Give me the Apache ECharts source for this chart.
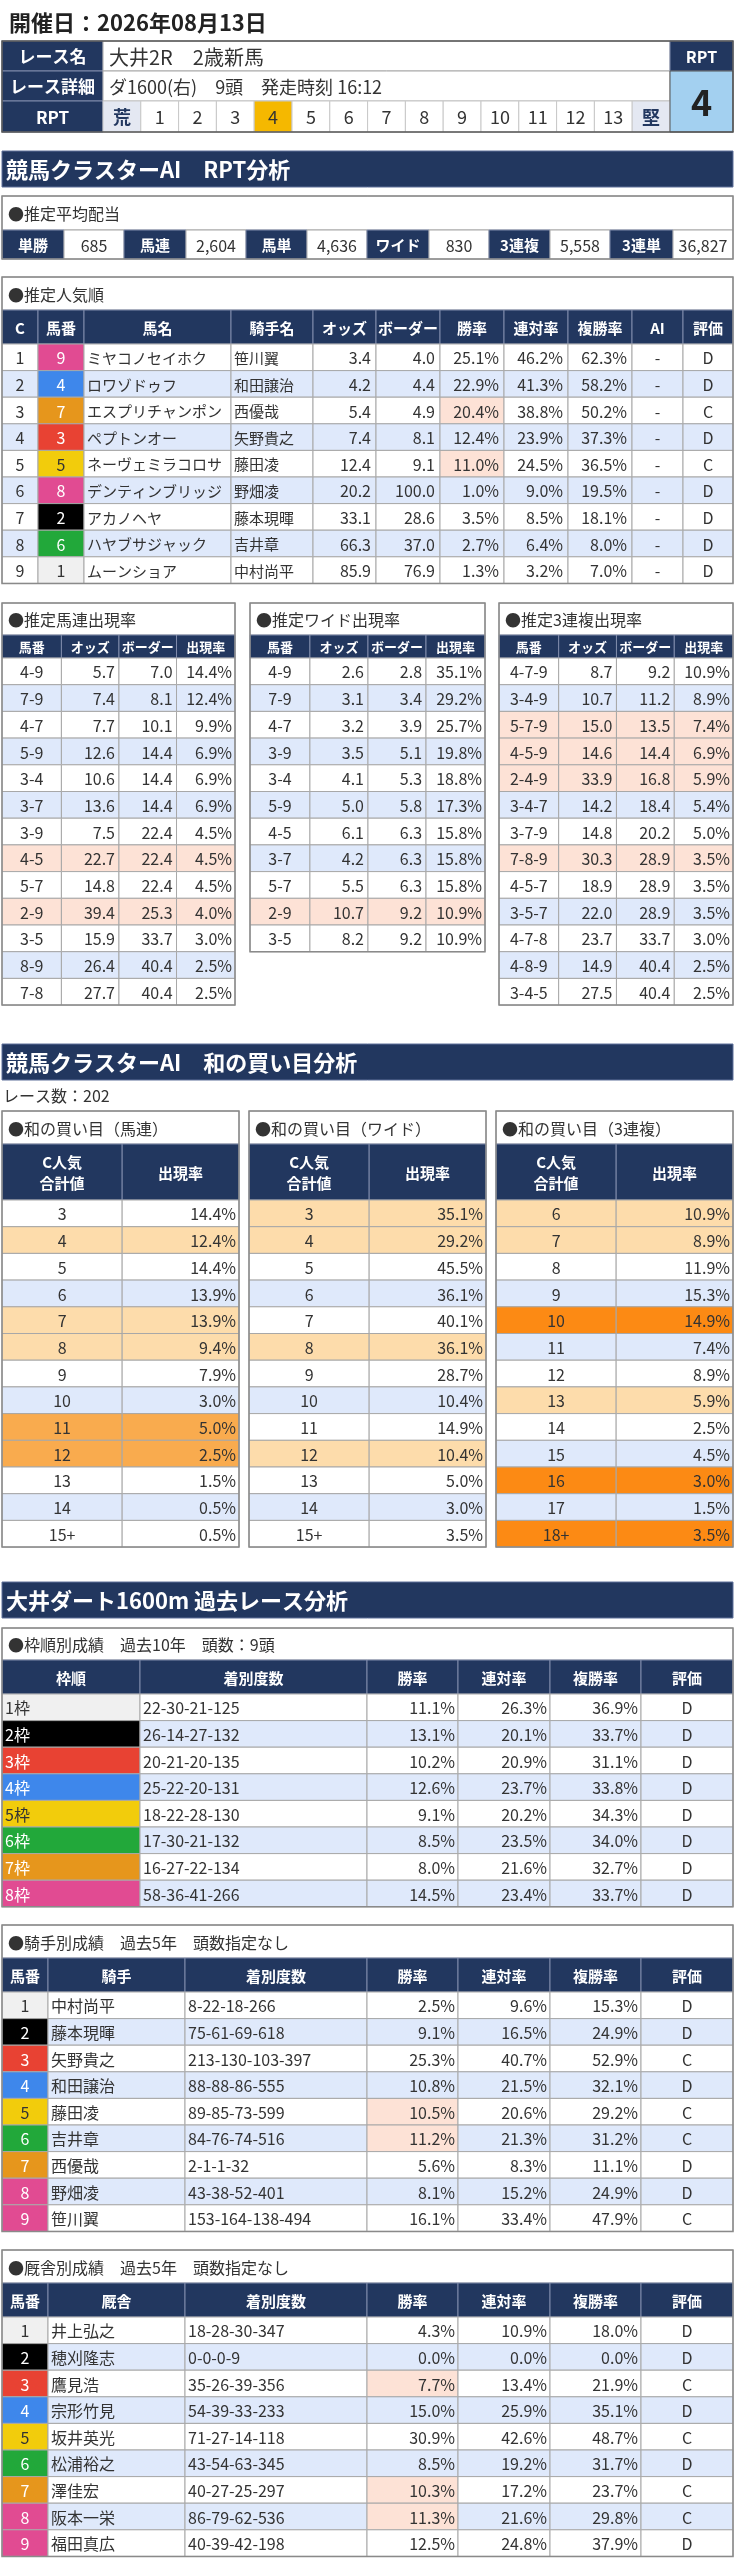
<!DOCTYPE html>
<html>
<head>
<meta charset="utf-8">
<script src="https://cdn.jsdelivr.net/npm/echarts/dist/echarts.min.js"></script>
<style>
html, body { margin: 0; padding: 0; background: #fff; }
#main { width: 735px; height: 2560px; }
</style>
</head>
<body>
<div id="main"></div>
<script>
// ---- data ----
var raceDate = '開催日：2026年08月13日';
var raceName = '大井2R　2歳新馬';
var raceDetail = 'ダ1600(右)　9頭　発走時刻 16:12';
var rptScale = ['荒', '1', '2', '3', '4', '5', '6', '7', '8', '9', '10', '11', '12', '13', '堅'];
var rptValue = 4;

var avgLabels = ['単勝', '馬連', '馬単', 'ワイド', '3連複', '3連単'];
var avgValues = ['685', '2,604', '4,636', '830', '5,558', '36,827'];

var popC = [1, 2, 3, 4, 5, 6, 7, 8, 9];
var popUmaban = [9, 4, 7, 3, 5, 8, 2, 6, 1];
var popName = ['ミヤコノセイホク', 'ロワゾドゥフ', 'エスプリチャンポン', 'ペプトンオー', 'ネーヴェミラコロサ', 'デンティンブリッジ', 'アカノヘヤ', 'ハヤブサジャック', 'ムーンショア'];
var popJockey = ['笹川翼', '和田譲治', '西優哉', '矢野貴之', '藤田凌', '野畑凌', '藤本現暉', '吉井章', '中村尚平'];
var popOdds = [3.4, 4.2, 5.4, 7.4, 12.4, 20.2, 33.1, 66.3, 85.9];
var popBorder = [4.0, 4.4, 4.9, 8.1, 9.1, 100.0, 28.6, 37.0, 76.9];
var popWin = [25.1, 22.9, 20.4, 12.4, 11.0, 1.0, 3.5, 2.7, 1.3];
var popRen = [46.2, 41.3, 38.8, 23.9, 24.5, 9.0, 8.5, 6.4, 3.2];
var popFuku = [62.3, 58.2, 50.2, 37.3, 36.5, 19.5, 18.1, 8.0, 7.0];
var popAI = ['-', '-', '-', '-', '-', '-', '-', '-', '-'];
var popEval = ['D', 'D', 'C', 'D', 'C', 'D', 'D', 'D', 'D'];
var popWinHi = [2, 4];

var umarenCombo = ['4-9', '7-9', '4-7', '5-9', '3-4', '3-7', '3-9', '4-5', '5-7', '2-9', '3-5', '8-9', '7-8'];
var umarenOdds = [5.7, 7.4, 7.7, 12.6, 10.6, 13.6, 7.5, 22.7, 14.8, 39.4, 15.9, 26.4, 27.7];
var umarenBorder = [7.0, 8.1, 10.1, 14.4, 14.4, 14.4, 22.4, 22.4, 22.4, 25.3, 33.7, 40.4, 40.4];
var umarenRate = [14.4, 12.4, 9.9, 6.9, 6.9, 6.9, 4.5, 4.5, 4.5, 4.0, 3.0, 2.5, 2.5];
var umarenHi = [7, 9];

var wideCombo = ['4-9', '7-9', '4-7', '3-9', '3-4', '5-9', '4-5', '3-7', '5-7', '2-9', '3-5'];
var wideOdds = [2.6, 3.1, 3.2, 3.5, 4.1, 5.0, 6.1, 4.2, 5.5, 10.7, 8.2];
var wideBorder = [2.8, 3.4, 3.9, 5.1, 5.3, 5.8, 6.3, 6.3, 6.3, 9.2, 9.2];
var wideRate = [35.1, 29.2, 25.7, 19.8, 18.8, 17.3, 15.8, 15.8, 15.8, 10.9, 10.9];
var wideHi = [9];

var trioCombo = ['4-7-9', '3-4-9', '5-7-9', '4-5-9', '2-4-9', '3-4-7', '3-7-9', '7-8-9', '4-5-7', '3-5-7', '4-7-8', '4-8-9', '3-4-5'];
var trioOdds = [8.7, 10.7, 15.0, 14.6, 33.9, 14.2, 14.8, 30.3, 18.9, 22.0, 23.7, 14.9, 27.5];
var trioBorder = [9.2, 11.2, 13.5, 14.4, 16.8, 18.4, 20.2, 28.9, 28.9, 28.9, 33.7, 40.4, 40.4];
var trioRate = [10.9, 8.9, 7.4, 6.9, 5.9, 5.4, 5.0, 3.5, 3.5, 3.5, 3.0, 2.5, 2.5];
var trioHi = [2, 3, 4, 7];

var raceCount = 202;
var sumKeys2 = ['3', '4', '5', '6', '7', '8', '9', '10', '11', '12', '13', '14', '15+'];
var umarenSumRate = [14.4, 12.4, 14.4, 13.9, 13.9, 9.4, 7.9, 3.0, 5.0, 2.5, 1.5, 0.5, 0.5];
var umarenSumLevel = [0, 1, 0, 0, 1, 1, 0, 0, 2, 2, 0, 0, 0];
var wideSumRate = [35.1, 29.2, 45.5, 36.1, 40.1, 36.1, 28.7, 10.4, 14.9, 10.4, 5.0, 3.0, 3.5];
var wideSumLevel = [1, 1, 0, 0, 0, 1, 0, 0, 0, 1, 0, 0, 0];
var sumKeys3 = ['6', '7', '8', '9', '10', '11', '12', '13', '14', '15', '16', '17', '18+'];
var trioSumRate = [10.9, 8.9, 11.9, 15.3, 14.9, 7.4, 8.9, 5.9, 2.5, 4.5, 3.0, 1.5, 3.5];
var trioSumLevel = [1, 1, 0, 0, 3, 0, 0, 1, 0, 0, 3, 0, 3];

var wakuRecord = ['22-30-21-125', '26-14-27-132', '20-21-20-135', '25-22-20-131', '18-22-28-130', '17-30-21-132', '16-27-22-134', '58-36-41-266'];
var wakuWin = [11.1, 13.1, 10.2, 12.6, 9.1, 8.5, 8.0, 14.5];
var wakuRen = [26.3, 20.1, 20.9, 23.7, 20.2, 23.5, 21.6, 23.4];
var wakuFuku = [36.9, 33.7, 31.1, 33.8, 34.3, 34.0, 32.7, 33.7];
var wakuEval = ['D', 'D', 'D', 'D', 'D', 'D', 'D', 'D'];

var jockeyName = ['中村尚平', '藤本現暉', '矢野貴之', '和田譲治', '藤田凌', '吉井章', '西優哉', '野畑凌', '笹川翼'];
var jockeyRecord = ['8-22-18-266', '75-61-69-618', '213-130-103-397', '88-88-86-555', '89-85-73-599', '84-76-74-516', '2-1-1-32', '43-38-52-401', '153-164-138-494'];
var jockeyWin = [2.5, 9.1, 25.3, 10.8, 10.5, 11.2, 5.6, 8.1, 16.1];
var jockeyRen = [9.6, 16.5, 40.7, 21.5, 20.6, 21.3, 8.3, 15.2, 33.4];
var jockeyFuku = [15.3, 24.9, 52.9, 32.1, 29.2, 31.2, 11.1, 24.9, 47.9];
var jockeyEval = ['D', 'D', 'C', 'D', 'C', 'C', 'D', 'D', 'C'];
var jockeyHi = [4, 5];

var stableName = ['井上弘之', '穂刈隆志', '鷹見浩', '宗形竹見', '坂井英光', '松浦裕之', '澤佳宏', '阪本一栄', '福田真広'];
var stableRecord = ['18-28-30-347', '0-0-0-9', '35-26-39-356', '54-39-33-233', '71-27-14-118', '43-54-63-345', '40-27-25-297', '86-79-62-536', '40-39-42-198'];
var stableWin = [4.3, 0.0, 7.7, 15.0, 30.9, 8.5, 10.3, 11.3, 12.5];
var stableRen = [10.9, 0.0, 13.4, 25.9, 42.6, 19.2, 17.2, 21.6, 24.8];
var stableFuku = [18.0, 0.0, 21.9, 35.1, 48.7, 31.7, 23.7, 29.8, 37.9];
var stableEval = ['D', 'D', 'C', 'D', 'C', 'D', 'C', 'C', 'D'];
var stableHi = [2, 6, 7];

var horseWaku = [1, 2, 3, 4, 5, 6, 7, 8, 8]; // 馬番 -> 枠

// ---- styles ----
var FONT = '"Noto Sans CJK JP", "Noto Sans", sans-serif';
var NAVY = '#22375f';
var BLUE_ROW = '#dfe9fb';
var PEACH = '#fde2d6';
var ORANGE = ['#ffffff', '#fddcab', '#f9ab4e', '#fc8a14'];
var WAKU_BG = ['#f0f0f0', '#000000', '#e84233', '#3e87eb', '#f2cc0c', '#22a83a', '#e6961c', '#e14b92'];
var WAKU_FG = ['#333333', '#ffffff', '#ffffff', '#ffffff', '#333333', '#ffffff', '#ffffff', '#ffffff'];
var GRID_LINE = '#a8a8a8';
var TEXT = '#333333';

function f(size, bold) { return (bold ? 'bold ' : '') + size + 'px ' + FONT; }
function pct(v) { return v.toFixed(1) + '%'; }
function has(arr, i) { return arr.indexOf(i) >= 0; }
function rowBg(r) { return r % 2 ? BLUE_ROW : '#ffffff'; }

// every cell of the page goes in here, then through one custom series
var cells = [];
function put(x, y, w, h, o) {
  o = o || {};
  o.x = x; o.y = y; o.w = w; o.h = h;
  cells.push(o);
}

function bar(y, text) {
  put(2, y, 731, 36, { fill: NAVY, stroke: '#5f719a', text: text, align: 'left', pad: 4, color: '#fff', font: f(22, true) });
}

function drawTable(t) {
  var e = t.edges, x0 = e[0], x1 = e[e.length - 1], y = t.y;
  if (t.title) {
    put(x0, y, x1 - x0, t.titleH, { fill: '#fff', stroke: GRID_LINE, text: t.title, align: 'left', pad: 6, color: TEXT, font: f(16) });
    y += t.titleH;
  }
  t.heads.forEach(function (hd, i) {
    put(e[i], y, e[i + 1] - e[i], t.headH, { fill: NAVY, stroke: '#7f8bab', text: hd, align: 'center', color: '#fff', font: t.headFont, lh: t.headLh });
  });
  y += t.headH;
  t.rows.forEach(function (row) {
    row.forEach(function (c, i) {
      c.fill = c.fill || '#fff';
      c.stroke = GRID_LINE;
      c.color = c.color || TEXT;
      c.font = c.font || f(16);
      c.align = c.align || 'center';
      put(e[i], y, e[i + 1] - e[i], t.rowH, c);
    });
    y += t.rowH;
  });
  put(x0, t.y, x1 - x0, y - t.y, { fill: 'none', stroke: '#8a8a8a', lw: 1.5 });
}

function scaleEdges(a, b, fr) { return fr.map(function (v) { return a + (b - a) * v; }); }

// ---- page header ----
put(0, 6, 420, 32, { fill: 'none', text: raceDate, align: 'left', pad: 9, color: '#222', font: f(22, true) });

var topRows = [41, 71, 101, 132];
['レース名', 'レース詳細', 'RPT'].forEach(function (lb, i) {
  put(2, topRows[i], 101, topRows[i + 1] - topRows[i], { fill: NAVY, stroke: '#7f8bab', text: lb, color: '#fff', font: f(17, true) });
});
put(103, 41, 567, 30, { fill: '#fff', stroke: GRID_LINE, text: raceName, align: 'left', pad: 6, color: TEXT, font: f(20) });
put(103, 71, 567, 30, { fill: '#fff', stroke: GRID_LINE, text: raceDetail, align: 'left', pad: 6, color: TEXT, font: f(18) });
rptScale.forEach(function (s, i) {
  var cw = 567 / rptScale.length;
  var edge = (i === 0 || i === rptScale.length - 1);
  var on = s === String(rptValue);
  put(103 + i * cw, 101, cw, 31, {
    fill: on ? '#f5b800' : (edge ? '#e4e8f2' : '#fff'), stroke: '#c8c8c8', text: s,
    color: edge ? NAVY : TEXT, font: f(18, edge)
  });
});
put(670, 41, 63, 30, { fill: NAVY, stroke: '#7f8bab', text: 'RPT', color: '#fff', font: f(16, true) });
put(670, 71, 63, 61, { fill: '#a3d0f0', stroke: '#555', text: String(rptValue), color: '#222', font: f(36, true) });
put(2, 41, 731, 91, { fill: 'none', stroke: '#555', lw: 1.5 });

// ---- RPT analysis ----
bar(151, '競馬クラスターAI　RPT分析');

put(2, 196, 731, 34, { fill: '#fff', stroke: GRID_LINE, text: '●推定平均配当', align: 'left', pad: 6, color: TEXT, font: f(16) });
var avgEdges = [2, 64, 124, 186, 246, 307, 367, 429, 489, 550, 610, 673, 733];
avgLabels.forEach(function (lb, i) {
  put(avgEdges[2 * i], 230, avgEdges[2 * i + 1] - avgEdges[2 * i], 29, { fill: NAVY, stroke: '#7f8bab', text: lb, color: '#fff', font: f(15, true) });
  put(avgEdges[2 * i + 1], 230, avgEdges[2 * i + 2] - avgEdges[2 * i + 1], 29, { fill: '#fff', stroke: GRID_LINE, text: avgValues[i], color: TEXT, font: f(16) });
});
put(2, 196, 731, 63, { fill: 'none', stroke: '#8a8a8a', lw: 1.5 });

drawTable({
  y: 277, edges: [2, 38, 84, 231, 313, 376, 440, 504, 568, 632, 683, 733],
  title: '●推定人気順', titleH: 33, headH: 34, rowH: 26.6, headFont: f(15, true),
  heads: ['C', '馬番', '馬名', '騎手名', 'オッズ', 'ボーダー', '勝率', '連対率', '複勝率', 'AI', '評価'],
  rows: popC.map(function (c, r) {
    var bg = rowBg(r), w = horseWaku[popUmaban[r] - 1] - 1;
    return [
      { text: String(c), fill: bg },
      { text: String(popUmaban[r]), fill: WAKU_BG[w], color: WAKU_FG[w] },
      { text: popName[r], fill: bg, align: 'left', pad: 3, font: f(15) },
      { text: popJockey[r], fill: bg, align: 'left', pad: 3, font: f(15) },
      { text: popOdds[r].toFixed(1), fill: bg, align: 'right' },
      { text: popBorder[r].toFixed(1), fill: bg, align: 'right' },
      { text: pct(popWin[r]), fill: has(popWinHi, r) ? PEACH : bg, align: 'right' },
      { text: pct(popRen[r]), fill: bg, align: 'right' },
      { text: pct(popFuku[r]), fill: bg, align: 'right' },
      { text: popAI[r], fill: bg },
      { text: popEval[r], fill: bg }
    ];
  })
});

function rateTable(x0, x1, title, combo, odds, border, rate, hi) {
  drawTable({
    y: 603, edges: scaleEdges(x0, x1, [0, 0.255, 0.502, 0.749, 1]),
    title: title, titleH: 32, headH: 23, rowH: 26.7, headFont: f(13, true),
    heads: ['馬番', 'オッズ', 'ボーダー', '出現率'],
    rows: combo.map(function (cb, r) {
      var bg = has(hi, r) ? PEACH : rowBg(r);
      return [
        { text: cb, fill: bg },
        { text: odds[r].toFixed(1), fill: bg, align: 'right', pad: 4 },
        { text: border[r].toFixed(1), fill: bg, align: 'right', pad: 4 },
        { text: pct(rate[r]), fill: bg, align: 'right', pad: 3 }
      ];
    })
  });
}
rateTable(2, 235, '●推定馬連出現率', umarenCombo, umarenOdds, umarenBorder, umarenRate, umarenHi);
rateTable(250, 485, '●推定ワイド出現率', wideCombo, wideOdds, wideBorder, wideRate, wideHi);
rateTable(499, 733, '●推定3連複出現率', trioCombo, trioOdds, trioBorder, trioRate, trioHi);

// ---- sum-of-popularity analysis ----
bar(1044, '競馬クラスターAI　和の買い目分析');
put(0, 1083, 200, 24, { fill: 'none', text: 'レース数：' + raceCount, align: 'left', pad: 3, color: TEXT, font: f(16) });

function sumTable(x0, x1, title, keys, rate, level) {
  drawTable({
    y: 1111, edges: scaleEdges(x0, x1, [0, 0.507, 1]),
    title: title, titleH: 33, headH: 56, rowH: 26.7, headFont: f(15, true), headLh: 21,
    heads: ['C人気\n合計値', '出現率'],
    rows: keys.map(function (k, r) {
      var bg = level[r] ? ORANGE[level[r]] : rowBg(r);
      return [
        { text: k, fill: bg },
        { text: pct(rate[r]), fill: bg, align: 'right', pad: 3 }
      ];
    })
  });
}
sumTable(2, 239, '●和の買い目（馬連）', sumKeys2, umarenSumRate, umarenSumLevel);
sumTable(249, 486, '●和の買い目（ワイド）', sumKeys2, wideSumRate, wideSumLevel);
sumTable(496, 733, '●和の買い目（3連複）', sumKeys3, trioSumRate, trioSumLevel);

// ---- past race analysis ----
bar(1582, '大井ダート1600m 過去レース分析');

drawTable({
  y: 1628, edges: [2, 140, 367, 458, 550, 641, 733],
  title: '●枠順別成績　過去10年　頭数：9頭', titleH: 32, headH: 34, rowH: 26.6, headFont: f(15, true),
  heads: ['枠順', '着別度数', '勝率', '連対率', '複勝率', '評価'],
  rows: wakuRecord.map(function (rec, r) {
    var bg = rowBg(r);
    return [
      { text: (r + 1) + '枠', fill: WAKU_BG[r], color: WAKU_FG[r], align: 'left', pad: 3 },
      { text: rec, fill: bg, align: 'left', pad: 3 },
      { text: pct(wakuWin[r]), fill: bg, align: 'right', pad: 3 },
      { text: pct(wakuRen[r]), fill: bg, align: 'right', pad: 3 },
      { text: pct(wakuFuku[r]), fill: bg, align: 'right', pad: 3 },
      { text: wakuEval[r], fill: bg }
    ];
  })
});

function personTable(y, title, head, names, record, win, ren, fuku, ev, hi) {
  drawTable({
    y: y, edges: [2, 48, 185, 367, 458, 550, 641, 733],
    title: title, titleH: 33, headH: 34, rowH: 26.6, headFont: f(15, true),
    heads: ['馬番', head, '着別度数', '勝率', '連対率', '複勝率', '評価'],
    rows: names.map(function (nm, r) {
      var bg = rowBg(r), w = horseWaku[r] - 1;
      return [
        { text: String(r + 1), fill: WAKU_BG[w], color: WAKU_FG[w] },
        { text: nm, fill: bg, align: 'left', pad: 3 },
        { text: record[r], fill: bg, align: 'left', pad: 3 },
        { text: pct(win[r]), fill: has(hi, r) ? PEACH : bg, align: 'right', pad: 3 },
        { text: pct(ren[r]), fill: bg, align: 'right', pad: 3 },
        { text: pct(fuku[r]), fill: bg, align: 'right', pad: 3 },
        { text: ev[r], fill: bg }
      ];
    })
  });
}
personTable(1925, '●騎手別成績　過去5年　頭数指定なし', '騎手', jockeyName, jockeyRecord, jockeyWin, jockeyRen, jockeyFuku, jockeyEval, jockeyHi);
personTable(2250, '●厩舎別成績　過去5年　頭数指定なし', '厩舎', stableName, stableRecord, stableWin, stableRen, stableFuku, stableEval, stableHi);

// ---- render: one page-sized grid, cells mapped through its axes ----
function renderCell(params, api) {
  var c = cells[params.dataIndex];
  var p0 = api.coord([api.value(0), api.value(1)]);
  var p1 = api.coord([api.value(0) + api.value(2), api.value(1) + api.value(3)]);
  var w = p1[0] - p0[0], h = p1[1] - p0[1];
  var kids = [{
    type: 'rect',
    shape: { x: p0[0], y: p0[1], width: w, height: h },
    style: { fill: c.fill || 'none', stroke: c.stroke || null, lineWidth: c.lw || 1 }
  }];
  if (c.text) {
    var pad = c.pad != null ? c.pad : 5;
    var al = c.align || 'center';
    var tx = al === 'left' ? p0[0] + pad : (al === 'right' ? p1[0] - pad : p0[0] + w / 2);
    kids.push({
      type: 'text',
      style: {
        text: c.text, x: tx, y: p0[1] + h / 2 + 1,
        align: al, verticalAlign: 'middle', textAlign: al, textVerticalAlign: 'middle',
        font: c.font, fill: c.color || TEXT, lineHeight: c.lh
      }
    });
  }
  return { type: 'group', children: kids };
}

var chart = echarts.init(document.getElementById('main'), null, { renderer: 'canvas' });
chart.setOption({
  animation: false,
  grid: { left: 0, right: 0, top: 0, bottom: 0 },
  xAxis: { type: 'value', min: 0, max: 735, show: false },
  yAxis: { type: 'value', min: 0, max: 2560, inverse: true, show: false },
  series: [{
    type: 'custom',
    coordinateSystem: 'cartesian2d',
    silent: true,
    clip: false,
    encode: { x: 0, y: 1 },
    renderItem: renderCell,
    data: cells.map(function (c) { return [c.x, c.y, c.w, c.h]; })
  }]
});
</script>
</body>
</html>
